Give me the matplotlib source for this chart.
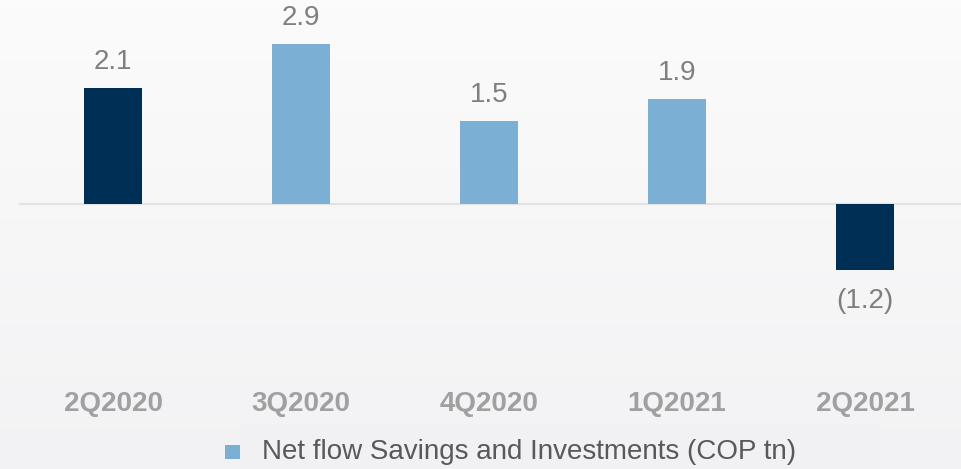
import numpy as np
import matplotlib
matplotlib.use("Agg")
import matplotlib.pyplot as plt
from matplotlib.patches import Rectangle

# Net flow of savings and investments per quarter (COP tn)
quarters = ["2Q2020", "3Q2020", "4Q2020", "1Q2021", "2Q2021"]
net_flow = [2.1, 2.9, 1.5, 1.9, -1.2]
value_labels = ["2.1", "2.9", "1.5", "1.9", "(1.2)"]
bar_colors = ["#002F56", "#7BAFD4", "#7BAFD4", "#7BAFD4", "#002F56"]
legend_label = "Net flow Savings and Investments (COP tn)"

plt.rcParams["font.family"] = ["Liberation Sans", "DejaVu Sans"]

W, H = 961, 469
fig = plt.figure(figsize=(W / 100, H / 100), dpi=100)

# soft vertical background gradient
bg = fig.add_axes([0, 0, 1, 1], zorder=0)
top = np.array([0.985, 0.985, 0.985])
bottom = np.array([0.950, 0.950, 0.958])
t = np.linspace(0, 1, 256)[:, None, None]
grad = top * (1 - t) + bottom * t
grad = np.repeat(grad, 2, axis=1)
bg.imshow(grad, aspect="auto", extent=[0, 1, 0, 1])
bg.set_xlim(0, 1)
bg.set_ylim(0, 1)
bg.axis("off")

# panel behind the legend
bg.add_patch(Rectangle((240 / W, 0), (880 - 240) / W, 44 / H,
                       transform=bg.transAxes, facecolor="#f1f1f3",
                       edgecolor="none"))

ax = fig.add_axes([0, 89 / H, 1, (H - 89) / H], zorder=1)
ax.patch.set_alpha(0)
x = np.arange(len(quarters))
ax.set_xlim(-113 / 188, (W - 113) / 188)
ax.set_ylim(-176 / 55, (380 - 176) / 55)

ax.axhline(0, xmin=20 / W, xmax=1, color="#e2e2e4", lw=1.6, zorder=1)
ax.bar(x, net_flow, width=0.31, color=bar_colors, zorder=2)

for xi, v, lab in zip(x, net_flow, value_labels):
    if v >= 0:
        ax.annotate(lab, (xi, v), xytext=(0, 10), textcoords="offset points",
                    ha="center", va="bottom", fontsize=20, color="#7f7f7f")
    else:
        ax.annotate(lab, (xi, v), xytext=(0, -13), textcoords="offset points",
                    ha="center", va="top", fontsize=20, color="#7f7f7f")

ax.set_xticks(x)
ax.set_xticklabels(quarters, fontsize=20, fontweight="bold", color="#a0a0a0")
ax.tick_params(axis="x", length=0, pad=8)
ax.set_yticks([])
for s in ax.spines.values():
    s.set_visible(False)

# legend
fig.patches.append(Rectangle((225 / W, (H - 459) / H), 15 / W, 14 / H,
                             transform=fig.transFigure, facecolor="#7BAFD4",
                             edgecolor="none", zorder=3))
fig.text(262 / W, (H - 452) / H, legend_label, fontsize=20, color="#595959",
         ha="left", va="center", zorder=3)

fig.savefig("out.png", dpi=100)
